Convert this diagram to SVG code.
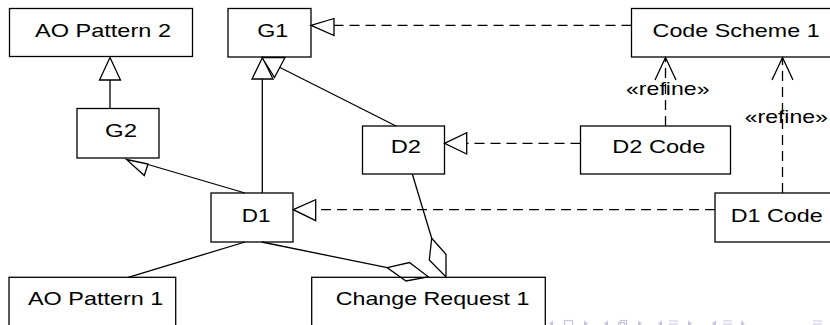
<svg xmlns="http://www.w3.org/2000/svg" width="830" height="325" viewBox="0 0 830 325">
<style>
.box{fill:#fff;stroke:#000;stroke-width:1.3}
.t{font-family:"Liberation Sans",Arial,sans-serif;font-size:19px;fill:#000}
.ln{fill:none;stroke:#000;stroke-width:1.3}
.dash{fill:none;stroke:#000;stroke-width:1.3;stroke-dasharray:10 6}
.tri{fill:#fff;stroke:#000;stroke-width:1.3;stroke-linejoin:miter}
.dia{fill:none;stroke:#000;stroke-width:1.3}
.nav{fill:none;stroke:#c6c6e2;stroke-width:1.2}
.navf{fill:#c6c6e2}
</style>
<rect width="830" height="325" fill="#fff"/>
<g id="nodes">
<g id="ao-pattern-2"><rect class="box" x="9.5" y="8.5" width="183" height="48"/><text class="t" x="35" y="37" textLength="136" lengthAdjust="spacingAndGlyphs">AO Pattern 2</text></g>
<g id="g1"><rect class="box" x="228" y="8.5" width="83" height="48.5"/><text class="t" x="257.3" y="37" textLength="31" lengthAdjust="spacingAndGlyphs">G1</text></g>
<g id="code-scheme-1"><rect class="box" x="631.5" y="8.5" width="210" height="48.5"/><text class="t" x="652.6" y="37" textLength="167" lengthAdjust="spacingAndGlyphs">Code Scheme 1</text></g>
<g id="g2"><rect class="box" x="77" y="108.5" width="82" height="49.5"/><text class="t" x="105" y="137" textLength="32" lengthAdjust="spacingAndGlyphs">G2</text></g>
<g id="d2"><rect class="box" x="362.5" y="126" width="82" height="48"/><text class="t" x="390.7" y="153.3" textLength="30.3" lengthAdjust="spacingAndGlyphs">D2</text></g>
<g id="d2-code"><rect class="box" x="580.5" y="126" width="150" height="48"/><text class="t" x="612.3" y="153.3" textLength="93" lengthAdjust="spacingAndGlyphs">D2 Code</text></g>
<g id="d1"><rect class="box" x="211" y="193" width="82" height="49"/><text class="t" x="241.7" y="221.7" textLength="28.7" lengthAdjust="spacingAndGlyphs">D1</text></g>
<g id="d1-code"><rect class="box" x="715" y="193" width="130" height="49"/><text class="t" x="730.7" y="221.7" textLength="92" lengthAdjust="spacingAndGlyphs">D1 Code</text></g>
<g id="ao-pattern-1"><rect class="box" x="9" y="277.3" width="166.7" height="60"/><text class="t" x="28" y="305" textLength="135.3" lengthAdjust="spacingAndGlyphs">AO Pattern 1</text></g>
<g id="change-request-1"><rect class="box" x="311.7" y="277.3" width="233.6" height="60"/><text class="t" x="335.7" y="305" textLength="193.7" lengthAdjust="spacingAndGlyphs">Change Request 1</text></g>
</g>
<g id="connectors">
<!-- G2 -> AO Pattern 2 -->
<line class="ln" x1="110" y1="108.5" x2="110" y2="80"/>
<polygon class="tri" points="110,57.5 120.5,80 99.5,80"/>
<!-- D1 -> G1 -->
<line class="ln" x1="262.3" y1="193" x2="262.3" y2="79"/>
<polygon class="tri" points="262.5,57.5 273,79 252,79"/>
<!-- D2 -> G1 -->
<line class="ln" x1="396" y1="126" x2="280" y2="67.5"/>
<polygon class="tri" points="262,57.5 285,57.5 274.5,77.5"/>
<!-- D1 -> G2 -->
<line class="ln" x1="245" y1="193" x2="148" y2="164.5"/>
<polygon class="tri" points="126.5,159.5 148,164 144.3,175.5"/>
<!-- Code Scheme 1 -> G1 -->
<line class="dash" x1="631.5" y1="25.3" x2="334" y2="25.3"/>
<polygon class="tri" points="311,25.3 334,18.5 334,35.5"/>
<!-- D2 Code -> D2 -->
<line class="dash" x1="580.5" y1="143.3" x2="466.7" y2="143.3"/>
<polygon class="tri" points="444.5,143.3 466.7,132.7 466.7,154"/>
<!-- D1 Code -> D1 -->
<line class="dash" x1="715" y1="209.7" x2="315.7" y2="209.7"/>
<polygon class="tri" points="293.3,209.7 315.7,199.7 315.7,220.7"/>
<!-- refine: D2 Code -> Code Scheme 1 -->
<line class="dash" x1="665.5" y1="126" x2="665.5" y2="58"/>
<polyline class="ln" points="655,80 665.5,57.5 676,80"/>
<!-- refine: D1 Code -> Code Scheme 1 -->
<line class="dash" x1="782.5" y1="193" x2="782.5" y2="58"/>
<polyline class="ln" points="772,80 782.5,57.5 793,80"/>
<!-- D1 -> AO Pattern 1 -->
<line class="ln" x1="245" y1="242" x2="128.3" y2="277.3"/>
<!-- D1 -> Change Request 1 (aggregation) -->
<line class="ln" x1="261.7" y1="242" x2="387.3" y2="267.7"/>
<polygon class="dia" points="387.3,267.7 409.5,262.5 428.3,276.8 406,281"/>
<!-- D2 -> Change Request 1 (aggregation) -->
<line class="ln" x1="412.3" y1="174" x2="431.7" y2="238.3"/>
<polygon class="dia" points="431.7,238.3 446,254.3 446,277 429.3,260"/>
<text class="t" x="626" y="95" textLength="83.5" lengthAdjust="spacingAndGlyphs">«refine»</text>
<text class="t" x="744.8" y="122.5" textLength="83" lengthAdjust="spacingAndGlyphs">«refine»</text>
</g>
<g id="navigation">
<polygon class="navf" points="553,320.5 549,323.5 553,326.5"/>
<rect class="nav" x="564.5" y="320.5" width="8" height="7"/>
<polygon class="navf" points="584,320.5 588,323.5 584,326.5"/>
<polygon class="navf" points="608,320.5 604,323.5 608,326.5"/>
<rect class="nav" x="620.5" y="320.5" width="6" height="6"/>
<rect class="nav" x="618.5" y="322.5" width="6" height="6"/>
<polygon class="navf" points="638,320.5 642,323.5 638,326.5"/>
<polygon class="navf" points="662,320.5 658,323.5 662,326.5"/>
<path class="nav" d="M669 321h9M669 324h9M669 327h9"/>
<polygon class="navf" points="688,320.5 692,323.5 688,326.5"/>
<polygon class="navf" points="716,320.5 712,323.5 716,326.5"/>
<path class="nav" d="M723 321h9M723 324h9M723 327h9"/>
<polygon class="navf" points="741,320.5 745,323.5 741,326.5"/>
<path class="nav" d="M813 321h9M813 324h9M813 327h9"/>
</g>
</svg>
